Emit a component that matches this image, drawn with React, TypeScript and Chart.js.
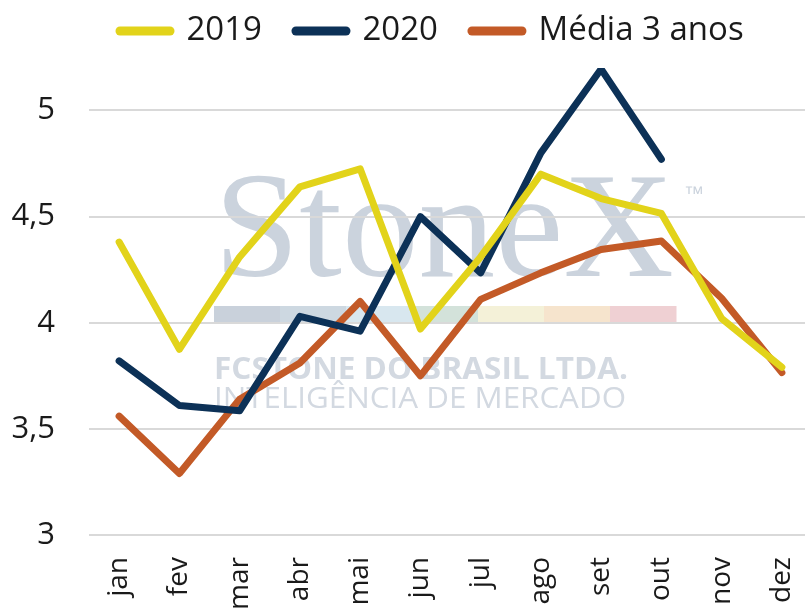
import React, { useEffect, useRef } from 'react';
import { Chart, registerables } from 'chart.js';

Chart.register(...registerables);

const months = ['jan', 'fev', 'mar', 'abr', 'mai', 'jun', 'jul', 'ago', 'set', 'out', 'nov', 'dez'];
const values2019 = [4.38, 3.875, 4.31, 4.64, 4.725, 3.97, 4.31, 4.7, 4.585, 4.515, 4.02, 3.79];
const values2020 = [3.82, 3.61, 3.585, 4.03, 3.96, 4.5, 4.235, 4.8, 5.195, 4.77, null, null];
const valuesMedia = [3.56, 3.29, 3.64, 3.81, 4.1, 3.75, 4.11, 4.235, 4.345, 4.385, 4.115, 3.765];
const seriesNames = ['2019', '2020', 'Média 3 anos'];
const yMin = 3;
const yMax = 5.2;
const yStep = 0.5;

const CANVAS_W = 812;
const CANVAS_H = 640;
const FONT = '"Open Sans", sans-serif';
const LEG_FONT = 33;
const LEG_PAD = 34;
const LEG_BOX = 50;

const watermark = {
  id: 'watermark',
  beforeDraw(chart: any) {
    const { ctx } = chart;
    ctx.save();
    ctx.fillStyle = '#cbd3dd';
    ctx.font = '150px "Liberation Serif", serif';
    ctx.textBaseline = 'alphabetic';
    const txt = 'StoneX';
    const w = ctx.measureText(txt).width;
    ctx.save();
    ctx.translate(214, 276);
    ctx.scale(460 / w, 1);
    ctx.fillText(txt, 0, 0);
    ctx.restore();
    ctx.font = '20px "Liberation Sans", sans-serif';
    ctx.fillText('™', 684, 200);
    const barColors = ['#c9d1db', '#cdd8e1', '#d8e7ef', '#d3e2da', '#f4f1d8', '#f6e4cd', '#efd0d3'];
    const bx0 = 214, bx1 = 676, by = 306, bh = 16;
    const seg = (bx1 - bx0) / barColors.length;
    barColors.forEach((c, i) => {
      ctx.fillStyle = c;
      ctx.fillRect(bx0 + i * seg, by, seg + 0.5, bh);
    });
    const drawFit = (t: string, font: string, x: number, y: number, width: number, color: string) => {
      ctx.font = font;
      ctx.fillStyle = color;
      const tw = ctx.measureText(t).width;
      ctx.save();
      ctx.translate(x, y);
      ctx.scale(width / tw, 1);
      ctx.fillText(t, 0, 0);
      ctx.restore();
    };
    drawFit('FCSTONE DO BRASIL LTDA.', 'bold 30px "Open Sans", sans-serif', 214, 379, 414, '#d3d9e1');
    drawFit('INTELIGÊNCIA DE MERCADO', '30px "Open Sans", sans-serif', 214, 408, 412, '#d3d9e1');
    ctx.restore();
  },
};

const legendPlace = {
  id: 'legendPlace',
  afterLayout(chart: any) {
    const lg = chart.legend;
    if (!lg) return;
    const h = lg.bottom - lg.top;
    lg.top = 31 - LEG_PAD - LEG_FONT / 2;
    lg.bottom = lg.top + h;
    const ctx = chart.ctx;
    ctx.save();
    ctx.font = `${LEG_FONT}px ${FONT}`;
    const L = seriesNames.reduce((s, n) => s + LEG_BOX + LEG_FONT / 2 + ctx.measureText(n).width + LEG_PAD, 0);
    ctx.restore();
    const cur = (lg.left + LEG_PAD + lg.right - L) / 2;
    const d = 120 - cur;
    lg.left += d;
    lg.right += d;
  },
};

export default function App() {
  const ref = useRef<HTMLCanvasElement | null>(null);

  useEffect(() => {
    if (!ref.current) return;
    const mk = (label: string, data: (number | null)[], color: string) => ({
      label,
      data,
      borderColor: color,
      backgroundColor: color,
      borderWidth: 7,
      pointRadius: 0,
      borderCapStyle: 'round',
      borderJoinStyle: 'round',
      tension: 0,
    });
    const chart = new Chart(ref.current, {
      type: 'line',
      data: {
        labels: months,
        datasets: [
          mk(seriesNames[0], values2019, '#e2d31a'),
          mk(seriesNames[1], values2020, '#0c3157'),
          mk(seriesNames[2], valuesMedia, '#c35a27'),
        ],
      },
      options: {
        animation: false,
        responsive: false,
        maintainAspectRatio: false,
        devicePixelRatio: 1,
        layout: { padding: { top: -9, left: 0, right: 0, bottom: 0 } },
        plugins: {
          tooltip: { enabled: false },
          legend: {
            display: true,
            position: 'top',
            align: 'center',
            labels: {
              usePointStyle: true,
              pointStyle: 'line',
              pointStyleWidth: LEG_BOX,
              padding: LEG_PAD,
              color: '#1a1a1a',
              font: { family: FONT, size: LEG_FONT },
              generateLabels: (c: any) => {
                const items = Chart.defaults.plugins.legend.labels.generateLabels(c);
                return items.map((it: any) => ({ ...it, lineWidth: 9, lineCap: 'round', pointStyle: 'line' }));
              },
            },
          },
        },
        scales: {
          x: {
            offset: true,
            grid: { display: false, drawTicks: false, offset: true },
            border: { display: false },
            ticks: {
              minRotation: 90,
              maxRotation: 90,
              autoSkip: false,
              padding: 22,
              color: '#1a1a1a',
              font: { family: FONT, size: 28 },
            },
            afterFit: (s: any) => {
              s.height = CANVAS_H - 535;
              s.paddingLeft = 0;
              s.paddingRight = 0;
            },
          },
          y: {
            min: yMin,
            max: yMax,
            grid: { color: '#d9d9d9', lineWidth: 2, drawTicks: false },
            border: { display: false },
            ticks: {
              stepSize: yStep,
              padding: 34,
              color: '#1a1a1a',
              font: { family: FONT, size: 31 },
              callback: (v: any) => String(v).replace('.', ','),
            },
            afterBuildTicks: (s: any) => {
              s.ticks = s.ticks.filter((t: any) => Math.abs(t.value / yStep - Math.round(t.value / yStep)) < 1e-6);
            },
            afterFit: (s: any) => {
              s.width = 89;
              s.paddingTop = 0;
              s.paddingBottom = 0;
            },
          },
        },
      },
      plugins: [watermark, legendPlace],
    } as any);
    return () => chart.destroy();
  }, []);

  return (
    <div style={{ position: 'absolute', left: 0, top: 0, width: 805, height: 609, overflow: 'hidden', background: '#fff' }}>
      <canvas ref={ref} width={CANVAS_W} height={CANVAS_H} style={{ width: CANVAS_W, height: CANVAS_H, display: 'block' }} />
    </div>
  );
}
